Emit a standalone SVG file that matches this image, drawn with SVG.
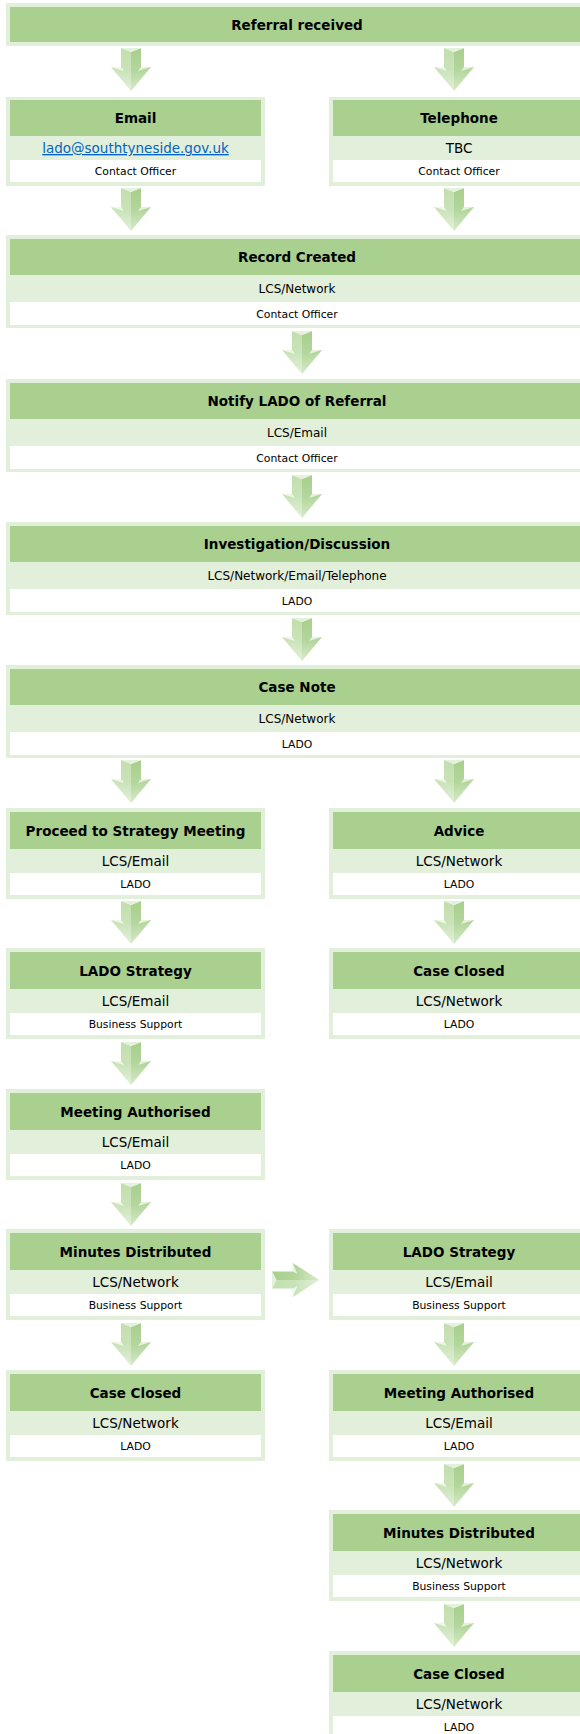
<svg xmlns="http://www.w3.org/2000/svg" xmlns:xlink="http://www.w3.org/1999/xlink" width="580" height="1734" viewBox="0 0 580 1734">
<style>
.fr{fill:#E2EFDA}
.hd{fill:#A9D08E}
.wh{fill:#FFFFFF}
text{font-family:'DejaVu Sans',Verdana,sans-serif;text-anchor:middle;fill:#000}
.t1{font-size:13.5px;font-weight:bold}
.t2{font-size:13.5px}
.t2w{font-size:12px}
.t3{font-size:10.8px}
.lnk{fill:#0563C1;text-decoration:underline}
</style>
<defs>
<linearGradient id="gL" x1="0" y1="0" x2="0" y2="1">
<stop offset="0" stop-color="#c2dead"/>
<stop offset="0.5" stop-color="#c9e3b8"/>
<stop offset="1" stop-color="#e3f0da"/>
</linearGradient>
<linearGradient id="gR" x1="0" y1="0" x2="0" y2="1">
<stop offset="0" stop-color="#a7cf8b"/>
<stop offset="0.5" stop-color="#b3d69c"/>
<stop offset="1" stop-color="#d6eac8"/>
</linearGradient>
<g id="dn">
<polygon points="-10,0 0,4 0,43 -20,19 -10,19" fill="url(#gL)"/>
<polygon points="0,4 10,0 10,19 20,19 0,43" fill="url(#gR)"/>
<polygon points="-10,0 10,0 0,4" fill="#e4f1dc"/>
<polygon points="-20,19 -10,19 -7,23" fill="#eef7e8"/>
<polygon points="20,19 10,19 7,23" fill="#e6f2de"/>
</g>
</defs>

<g id="connectors">
<use xlink:href="#dn" transform="translate(131,48)"/>
<use xlink:href="#dn" transform="translate(454,48)"/>
<use xlink:href="#dn" transform="translate(131,188)"/>
<use xlink:href="#dn" transform="translate(454,188)"/>
<use xlink:href="#dn" transform="translate(302,331)"/>
<use xlink:href="#dn" transform="translate(302,475)"/>
<use xlink:href="#dn" transform="translate(302,618)"/>
<use xlink:href="#dn" transform="translate(131,760)"/>
<use xlink:href="#dn" transform="translate(454,760)"/>
<use xlink:href="#dn" transform="translate(131,901)"/>
<use xlink:href="#dn" transform="translate(454,901)"/>
<use xlink:href="#dn" transform="translate(131,1042)"/>
<use xlink:href="#dn" transform="translate(131,1183)"/>
<use xlink:href="#dn" transform="translate(131,1323)"/>
<use xlink:href="#dn" transform="translate(454,1323)"/>
<use xlink:href="#dn" transform="translate(454,1464)"/>
<use xlink:href="#dn" transform="translate(454,1604)"/>
<use xlink:href="#dn" transform="translate(272,1280) rotate(-90) scale(0.85,1.1)"/>
</g>

<g id="n-referral">
<rect class="fr" x="6" y="3" width="583" height="43"/>
<rect class="hd" x="10" y="7" width="575" height="35"/>
<text class="t1" x="297" y="29.5">Referral received</text>
</g>

<g id="n-email">
<rect class="fr" x="6" y="97" width="259" height="89"/>
<rect class="hd" x="10" y="100" width="251" height="36"/>
<rect class="wh" x="10" y="160" width="251" height="22"/>
<text class="t1" x="135.5" y="123">Email</text>
<text class="t2 lnk" x="135.5" y="153">lado@southtyneside.gov.uk</text>
<text class="t3" x="135.5" y="175">Contact Officer</text>
</g>

<g id="n-telephone">
<rect class="fr" x="329" y="97" width="260" height="89"/>
<rect class="hd" x="333" y="100" width="252" height="36"/>
<rect class="wh" x="333" y="160" width="252" height="22"/>
<text class="t1" x="459" y="123">Telephone</text>
<text class="t2" x="459" y="153">TBC</text>
<text class="t3" x="459" y="175">Contact Officer</text>
</g>

<g id="n-record">
<rect class="fr" x="6" y="235" width="583" height="93"/>
<rect class="hd" x="10" y="239" width="575" height="36"/>
<rect class="wh" x="10" y="302" width="575" height="23"/>
<text class="t1" x="297" y="262">Record Created</text>
<text class="t2w" x="297" y="293">LCS/Network</text>
<text class="t3" x="297" y="317.5">Contact Officer</text>
</g>

<g id="n-notify">
<rect class="fr" x="6" y="379" width="583" height="93"/>
<rect class="hd" x="10" y="383" width="575" height="36"/>
<rect class="wh" x="10" y="446" width="575" height="23"/>
<text class="t1" x="297" y="406">Notify LADO of Referral</text>
<text class="t2w" x="297" y="437">LCS/Email</text>
<text class="t3" x="297" y="461.5">Contact Officer</text>
</g>

<g id="n-investigation">
<rect class="fr" x="6" y="522" width="583" height="93"/>
<rect class="hd" x="10" y="526" width="575" height="36"/>
<rect class="wh" x="10" y="589" width="575" height="23"/>
<text class="t1" x="297" y="549">Investigation/Discussion</text>
<text class="t2w" x="297" y="580">LCS/Network/Email/Telephone</text>
<text class="t3" x="297" y="604.5">LADO</text>
</g>

<g id="n-casenote">
<rect class="fr" x="6" y="665" width="583" height="93"/>
<rect class="hd" x="10" y="669" width="575" height="36"/>
<rect class="wh" x="10" y="732" width="575" height="23"/>
<text class="t1" x="297" y="692">Case Note</text>
<text class="t2w" x="297" y="723">LCS/Network</text>
<text class="t3" x="297" y="747.5">LADO</text>
</g>

<g id="n-proceed">
<rect class="fr" x="6" y="808" width="259" height="91"/>
<rect class="hd" x="10" y="812" width="251" height="37"/>
<rect class="wh" x="10" y="873" width="251" height="22"/>
<text class="t1" x="135.5" y="835.5">Proceed to Strategy Meeting</text>
<text class="t2" x="135.5" y="866">LCS/Email</text>
<text class="t3" x="135.5" y="888">LADO</text>
</g>

<g id="n-advice">
<rect class="fr" x="329" y="808" width="260" height="91"/>
<rect class="hd" x="333" y="812" width="252" height="37"/>
<rect class="wh" x="333" y="873" width="252" height="22"/>
<text class="t1" x="459" y="835.5">Advice</text>
<text class="t2" x="459" y="866">LCS/Network</text>
<text class="t3" x="459" y="888">LADO</text>
</g>

<g id="n-lado-strategy-1">
<rect class="fr" x="6" y="948" width="259" height="91"/>
<rect class="hd" x="10" y="952" width="251" height="37"/>
<rect class="wh" x="10" y="1013" width="251" height="22"/>
<text class="t1" x="135.5" y="975.5">LADO Strategy</text>
<text class="t2" x="135.5" y="1006">LCS/Email</text>
<text class="t3" x="135.5" y="1028">Business Support</text>
</g>

<g id="n-case-closed-1">
<rect class="fr" x="329" y="948" width="260" height="91"/>
<rect class="hd" x="333" y="952" width="252" height="37"/>
<rect class="wh" x="333" y="1013" width="252" height="22"/>
<text class="t1" x="459" y="975.5">Case Closed</text>
<text class="t2" x="459" y="1006">LCS/Network</text>
<text class="t3" x="459" y="1028">LADO</text>
</g>

<g id="n-meeting-authorised-1">
<rect class="fr" x="6" y="1089" width="259" height="91"/>
<rect class="hd" x="10" y="1093" width="251" height="37"/>
<rect class="wh" x="10" y="1154" width="251" height="22"/>
<text class="t1" x="135.5" y="1116.5">Meeting Authorised</text>
<text class="t2" x="135.5" y="1147">LCS/Email</text>
<text class="t3" x="135.5" y="1169">LADO</text>
</g>

<g id="n-minutes-1">
<rect class="fr" x="6" y="1229" width="259" height="91"/>
<rect class="hd" x="10" y="1233" width="251" height="37"/>
<rect class="wh" x="10" y="1294" width="251" height="22"/>
<text class="t1" x="135.5" y="1256.5">Minutes Distributed</text>
<text class="t2" x="135.5" y="1287">LCS/Network</text>
<text class="t3" x="135.5" y="1309">Business Support</text>
</g>

<g id="n-case-closed-2">
<rect class="fr" x="6" y="1370" width="259" height="91"/>
<rect class="hd" x="10" y="1374" width="251" height="37"/>
<rect class="wh" x="10" y="1435" width="251" height="22"/>
<text class="t1" x="135.5" y="1397.5">Case Closed</text>
<text class="t2" x="135.5" y="1428">LCS/Network</text>
<text class="t3" x="135.5" y="1450">LADO</text>
</g>

<g id="n-lado-strategy-2">
<rect class="fr" x="329" y="1229" width="260" height="91"/>
<rect class="hd" x="333" y="1233" width="252" height="37"/>
<rect class="wh" x="333" y="1294" width="252" height="22"/>
<text class="t1" x="459" y="1256.5">LADO Strategy</text>
<text class="t2" x="459" y="1287">LCS/Email</text>
<text class="t3" x="459" y="1309">Business Support</text>
</g>

<g id="n-meeting-authorised-2">
<rect class="fr" x="329" y="1370" width="260" height="91"/>
<rect class="hd" x="333" y="1374" width="252" height="37"/>
<rect class="wh" x="333" y="1435" width="252" height="22"/>
<text class="t1" x="459" y="1397.5">Meeting Authorised</text>
<text class="t2" x="459" y="1428">LCS/Email</text>
<text class="t3" x="459" y="1450">LADO</text>
</g>

<g id="n-minutes-2">
<rect class="fr" x="329" y="1510" width="260" height="91"/>
<rect class="hd" x="333" y="1514" width="252" height="37"/>
<rect class="wh" x="333" y="1575" width="252" height="22"/>
<text class="t1" x="459" y="1537.5">Minutes Distributed</text>
<text class="t2" x="459" y="1568">LCS/Network</text>
<text class="t3" x="459" y="1590">Business Support</text>
</g>

<g id="n-case-closed-3">
<rect class="fr" x="329" y="1651" width="260" height="91"/>
<rect class="hd" x="333" y="1655" width="252" height="37"/>
<rect class="wh" x="333" y="1716" width="252" height="22"/>
<text class="t1" x="459" y="1678.5">Case Closed</text>
<text class="t2" x="459" y="1709">LCS/Network</text>
<text class="t3" x="459" y="1731">LADO</text>
</g>
</svg>
